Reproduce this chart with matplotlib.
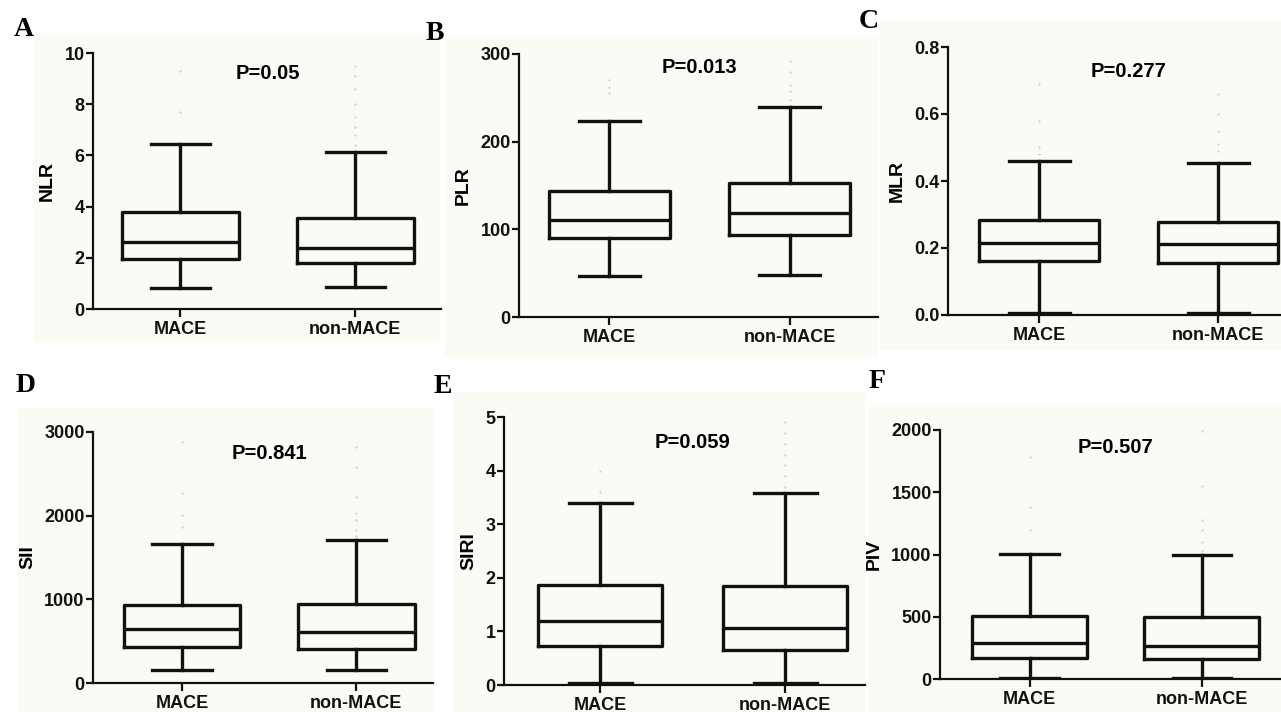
import matplotlib
matplotlib.use('Agg')
import matplotlib.pyplot as plt
from matplotlib.patches import Rectangle

W, H = 1281, 712
groups = ['MACE', 'non-MACE']

# five-number summaries: whisker low, Q1, median, Q3, whisker high
nlr_mace = [0.82, 1.95, 2.6, 3.8, 6.45]
nlr_non = [0.85, 1.8, 2.4, 3.55, 6.15]
plr_mace = [47, 90, 111, 144, 224]
plr_non = [48, 94, 119, 153, 239]
mlr_mace = [0.005, 0.161, 0.215, 0.284, 0.46]
mlr_non = [0.005, 0.155, 0.212, 0.278, 0.454]
sii_mace = [150, 430, 640, 930, 1660]
sii_non = [150, 410, 610, 940, 1710]
siri_mace = [0.03, 0.73, 1.2, 1.86, 3.40]
siri_non = [0.03, 0.66, 1.06, 1.85, 3.58]
piv_mace = [5, 170, 290, 510, 1005]
piv_non = [10, 160, 268, 498, 995]

# faint outlier dots above the whiskers
nlr_out_mace = [7.7, 9.3]
nlr_out_non = [6.4, 6.8, 7.1, 7.5, 8.0, 8.6, 9.1, 9.5]
plr_out_mace = [255, 262, 270]
plr_out_non = [248, 258, 265, 280, 292]
mlr_out_mace = [0.48, 0.50, 0.58, 0.69]
mlr_out_non = [0.49, 0.51, 0.55, 0.60, 0.66]
sii_out_mace = [1870, 2010, 2270, 2880]
sii_out_non = [1760, 1830, 1950, 2030, 2220, 2580, 2820]
siri_out_mace = [3.6, 4.0]
siri_out_non = [3.7, 3.9, 4.1, 4.3, 4.5, 4.7, 4.9]
piv_out_mace = [1200, 1380, 1780]
piv_out_non = [1030, 1100, 1200, 1280, 1550, 1990]

p_values = ['P=0.05', 'P=0.013', 'P=0.277', 'P=0.841', 'P=0.059', 'P=0.507']
y_labels = ['NLR', 'PLR', 'MLR', 'SII', 'SIRI', 'PIV']
letters = ['A', 'B', 'C', 'D', 'E', 'F']
y_max = [10, 300, 0.8, 3000, 5, 2000]
y_ticks = [[0, 2, 4, 6, 8, 10], [0, 100, 200, 300], [0, 0.2, 0.4, 0.6, 0.8],
           [0, 1000, 2000, 3000], [0, 1, 2, 3, 4, 5], [0, 500, 1000, 1500, 2000]]
tick_fmt = ['{:g}', '{:g}', '{:.1f}', '{:g}', '{:g}', '{:g}']

summaries = [(nlr_mace, nlr_non), (plr_mace, plr_non), (mlr_mace, mlr_non),
             (sii_mace, sii_non), (siri_mace, siri_non), (piv_mace, piv_non)]
outliers = [(nlr_out_mace, nlr_out_non), (plr_out_mace, plr_out_non),
            (mlr_out_mace, mlr_out_non), (sii_out_mace, sii_out_non),
            (siri_out_mace, siri_out_non), (piv_out_mace, piv_out_non)]

# layout in pixels: background box, axes box (left, top, right, bottom),
# x limits, p-text height (axes fraction), letter position
bg_px = [(33, 33, 441, 343), (445, 37, 878, 357), (880, 20, 1281, 350),
         (17, 408, 433, 712), (453, 392, 865, 712), (868, 407, 1281, 712)]
ax_px = [(93, 53, 441, 309), (519, 54, 878, 317), (948, 47, 1281, 315),
         (93, 432, 433, 683), (504, 417, 865, 685), (940, 430, 1281, 679)]
x_lims = [(-0.50, 1.49), (-0.50, 1.49), (-0.51, 1.35),
          (-0.51, 1.44), (-0.52, 1.43), (-0.52, 1.46)]
p_y = [0.92, 0.947, 0.91, 0.916, 0.903, 0.93]
letter_px = [(24, 29), (435, 33), (869, 21), (26, 385), (443, 386), (877, 381)]

sans = 'Liberation Sans'
fig = plt.figure(figsize=(W / 100, H / 100), dpi=100)
fig.patch.set_facecolor('white')

for i in range(6):
    x0, y0, x1, y1 = bg_px[i]
    fig.add_artist(Rectangle((x0 / W, 1 - y1 / H), (x1 - x0) / W, (y1 - y0) / H,
                             transform=fig.transFigure, facecolor='#fbfaf5',
                             edgecolor='none', zorder=-5))
    l, t, r, b = ax_px[i]
    ax = fig.add_axes([l / W, 1 - b / H, (r - l) / W, (b - t) / H])
    ax.set_facecolor('none')

    stats = []
    for j, s in enumerate(summaries[i]):
        stats.append({'whislo': s[0], 'q1': s[1], 'med': s[2], 'q3': s[3],
                      'whishi': s[4], 'fliers': [], 'label': groups[j]})
    ax.bxp(stats, positions=[0, 1], widths=0.67, capwidths=0.34,
           showfliers=False,
           boxprops=dict(color='#111111', linewidth=2.4),
           whiskerprops=dict(color='#111111', linewidth=2.4),
           capprops=dict(color='#111111', linewidth=2.4),
           medianprops=dict(color='#111111', linewidth=2.4))
    for j in range(2):
        vals = outliers[i][j]
        ax.plot([j] * len(vals), vals, linestyle='none', marker='.',
                markersize=1.4, color='#d4d4d4')

    ax.set_xlim(*x_lims[i])
    ax.set_ylim(0, y_max[i])
    ax.set_yticks(y_ticks[i])
    ax.set_yticklabels([tick_fmt[i].format(v) for v in y_ticks[i]],
                       fontfamily=sans, fontweight='bold', fontsize=13)
    ax.set_xticks([0, 1])
    ax.set_xticklabels(groups, fontfamily=sans, fontweight='bold', fontsize=13)
    for side in ['top', 'right']:
        ax.spines[side].set_visible(False)
    for side in ['left', 'bottom']:
        ax.spines[side].set_linewidth(1.6)
        ax.spines[side].set_color('#111111')
    ax.tick_params(axis='y', length=5, width=1.6, pad=1, colors='#111111')
    ax.tick_params(axis='x', length=6, width=1.6, pad=3, colors='#111111')
    ax.set_ylabel(y_labels[i], fontfamily=sans, fontweight='bold',
                  fontsize=14, labelpad=6)
    ax.text(0.5, p_y[i], p_values[i], transform=ax.get_xaxis_transform(),
            ha='center', va='center', fontfamily=sans, fontweight='bold',
            fontsize=14.5)

    lx, ly = letter_px[i]
    fig.text(lx / W, 1 - ly / H, letters[i], ha='center', va='center',
             fontfamily='Liberation Serif', fontweight='bold', fontsize=20)

fig.savefig('out.png', dpi=100, facecolor='white')
